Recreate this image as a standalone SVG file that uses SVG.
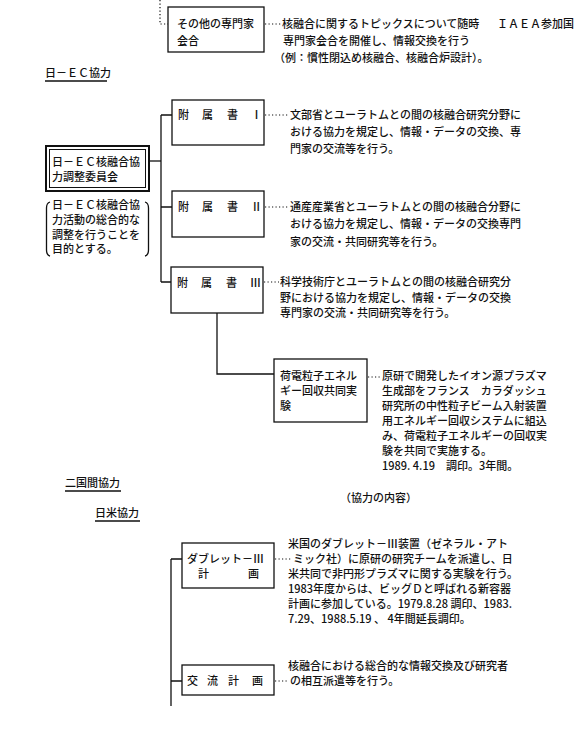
<svg xmlns="http://www.w3.org/2000/svg" width="578" height="736" viewBox="0 0 578 736">
<style>
.t{font-family:"Noto Sans CJK JP","Noto Sans",sans-serif;font-size:11px;font-weight:500;fill:#111}
.box{fill:#fff;stroke:#111;stroke-width:1.3}
.ln{stroke:#111;stroke-width:1.3;fill:none}
.dot{stroke:#111;stroke-width:1.2;stroke-dasharray:1.2 2.3;fill:none}
</style>
<rect width="578" height="736" fill="#fff"/>
<g id="connectors">
<path class="dot" d="M160,0 V24 H168"/>
<path class="dot" d="M265,24 H281"/>
<path class="ln" d="M149,161 H161"/>
<path class="ln" d="M161,115 V282"/>
<path class="ln" d="M161,115 H172 M161,207 H172 M161,282 H171"/>
<path class="dot" d="M265,115 H289 M265,207 H289 M264,282 H279"/>
<path class="ln" d="M217,313 V374 H274"/>
<path class="dot" d="M368,377 H381"/>
<path class="ln" d="M171,559 V706 M171,559 H182 M171,681 H182"/>
<path class="dot" d="M275,559 H292 M275,681 H289"/>
<path class="ln" d="M45,81 H107 M65,491 H121 M95,521 H140" stroke-width="1"/>
</g>
<g id="other-experts">
<rect class="box" x="168" y="7" width="96" height="45"/>
<text class="t" x="177" y="28">その他の専門家</text>
<text class="t" x="177" y="45">会合</text>
</g>
<g id="other-experts-desc">
<text class="t" x="282" y="28">核融合に関するトピックスについて随時</text>
<text class="t" x="497" y="28">ＩＡＥＡ参加国</text>
<text class="t" x="283" y="45">専門家会合を開催し、情報交換を行う</text>
<text class="t" x="274" y="62">（例：慣性閉込め核融合、核融合炉設計）。</text>
</g>
<g id="heading-ec"><text class="t" x="45" y="77">日－ＥＣ協力</text></g>
<g id="committee">
<rect x="46" y="146" width="103" height="45" fill="#fff" stroke="#111" stroke-width="2"/>
<rect x="49.5" y="149.5" width="96" height="38" fill="none" stroke="#111" stroke-width="1"/>
<text class="t" x="52" y="166">日－ＥＣ核融合協</text>
<text class="t" x="52" y="181">力調整委員会</text>
</g>
<g id="committee-purpose">
<path class="ln" stroke-width="1.1" d="M50,202 Q46.5,203 46.5,208 V250 Q46.5,255 50,256 M145,202 Q148.5,203 148.5,208 V250 Q148.5,255 145,256"/>
<text class="t" x="52" y="209">日－ＥＣ核融合協</text>
<text class="t" x="52" y="224">力活動の総合的な</text>
<text class="t" x="52" y="238.5">調整を行うことを</text>
<text class="t" x="52" y="253">目的とする。</text>
</g>
<g id="annex1">
<rect class="box" x="172" y="100" width="92" height="45"/>
<text class="t" x="178 202 227 251" y="119">附属書Ⅰ</text>
<text class="t" x="290" y="119">文部省とユーラトムとの間の核融合研究分野に</text>
<text class="t" x="290" y="136">おける協力を規定し、情報・データの交換、専</text>
<text class="t" x="290" y="153">門家の交流等を行う。</text>
</g>
<g id="annex2">
<rect class="box" x="172" y="191" width="92" height="46"/>
<text class="t" x="178 202 227 251" y="211">附属書Ⅱ</text>
<text class="t" x="290" y="211">通産産業省とユーラトムとの間の核融合分野に</text>
<text class="t" x="290" y="228">おける協力を規定し、情報・データの交換専門</text>
<text class="t" x="290" y="245.5">家の交流・共同研究等を行う。</text>
</g>
<g id="annex3">
<rect class="box" x="171" y="267" width="92" height="46"/>
<text class="t" x="177 201 226 250" y="287">附属書Ⅲ</text>
<text class="t" x="280" y="286">科学技術庁とユーラトムとの間の核融合研究分</text>
<text class="t" x="280" y="301.5">野における協力を規定し、情報・データの交換</text>
<text class="t" x="280" y="317">専門家の交流・共同研究等を行う。</text>
</g>
<g id="energy-recovery">
<rect class="box" x="274" y="359" width="93" height="63"/>
<text class="t" x="280" y="380">荷電粒子エネル</text>
<text class="t" x="280" y="395">ギー回収共同実</text>
<text class="t" x="280" y="410">験</text>
<text class="t" x="382" y="380">原研で開発したイオン源プラズマ</text>
<text class="t" x="382" y="395">生成部をフランス　カラダッシュ</text>
<text class="t" x="382" y="410">研究所の中性粒子ビーム入射装置</text>
<text class="t" x="382" y="425">用エネルギー回収システムに組込</text>
<text class="t" x="382" y="440">み、荷電粒子エネルギーの回収実</text>
<text class="t" x="382" y="455">験を共同で実施する。</text>
<text class="t" x="382" y="470">1989. 4.19　調印。3年間。</text>
</g>
<g id="heading-bilateral">
<text class="t" x="65" y="487">二国間協力</text>
<text class="t" x="340" y="502">（協力の内容）</text>
<text class="t" x="95" y="517">日米協力</text>
</g>
<g id="doublet">
<rect class="box" x="182" y="543" width="92" height="45"/>
<text class="t" x="187" y="563">ダブレット－Ⅲ</text>
<text class="t" x="198 248" y="578">計画</text>
<text class="t" x="288" y="548">米国のダブレット－Ⅲ装置（ゼネラル・アト</text>
<text class="t" x="293" y="563">ミック社）に原研の研究チームを派遣し、日</text>
<text class="t" x="288" y="578">米共同で非円形プラズマに関する実験を行う。</text>
<text class="t" x="288" y="593">1983年度からは、ビッグＤと呼ばれる新容器</text>
<text class="t" x="288" y="608">計画に参加している。1979.8.28 調印、1983.</text>
<text class="t" x="288" y="623">7.29、1988.5.19 、 4年間延長調印。</text>
</g>
<g id="exchange">
<rect class="box" x="182" y="665" width="92" height="30"/>
<text class="t" x="187 207 228 252" y="685">交流計画</text>
<text class="t" x="288" y="670">核融合における総合的な情報交換及び研究者</text>
<text class="t" x="290" y="685">の相互派遣等を行う。</text>
</g>
</svg>
